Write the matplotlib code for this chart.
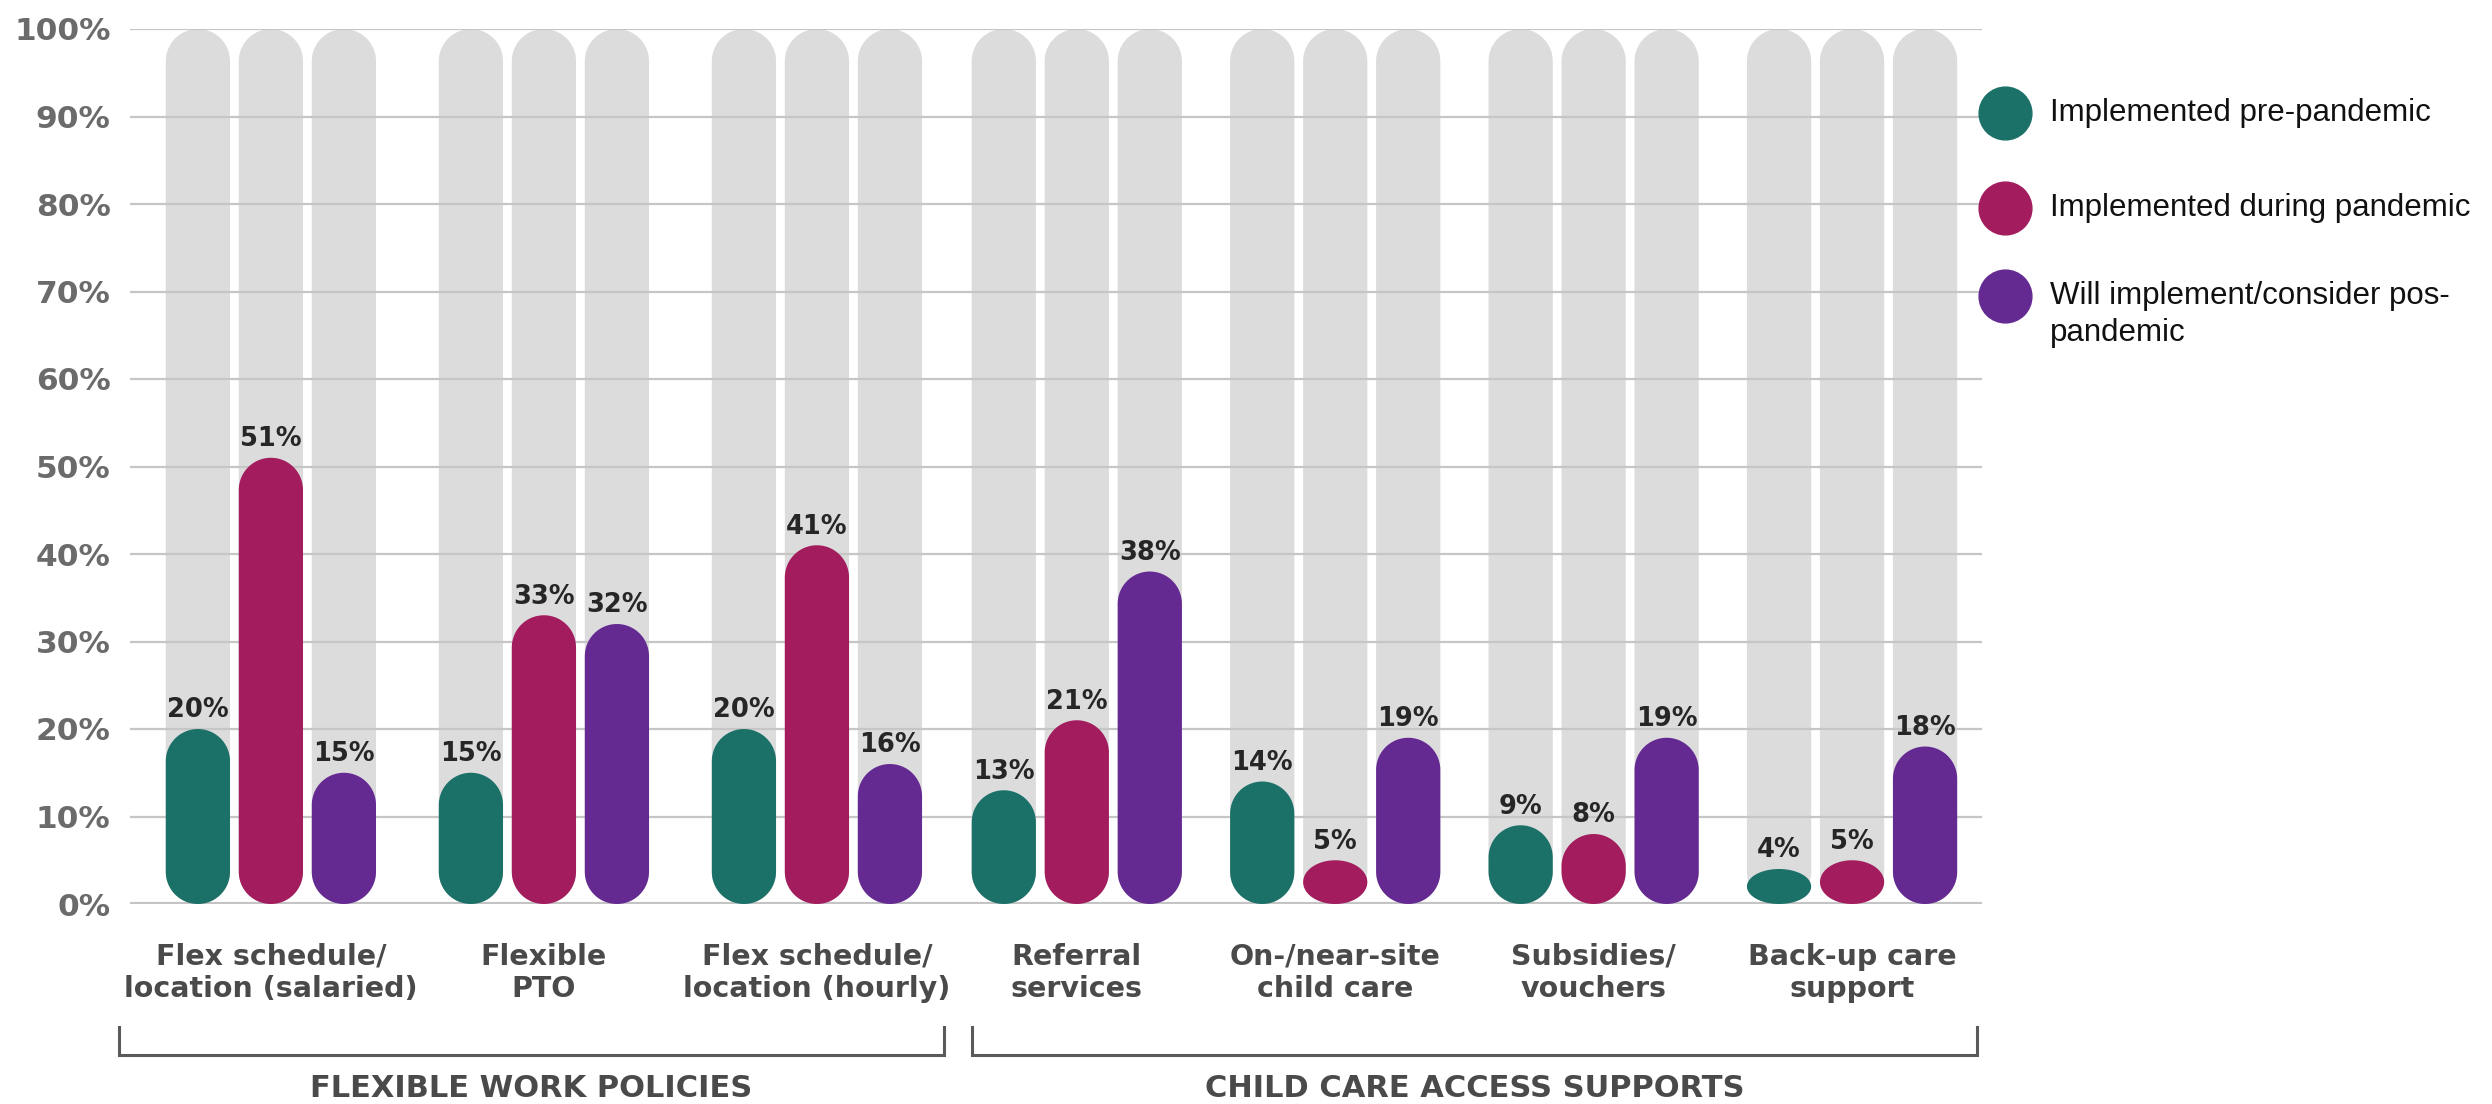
import matplotlib
matplotlib.use('Agg')
import matplotlib.pyplot as plt
from matplotlib.patches import Polygon
from matplotlib.lines import Line2D
from matplotlib.transforms import blended_transform_factory
import numpy as np

# --- data ---
categories = ['Flex schedule/\nlocation (salaried)', 'Flexible\nPTO',
              'Flex schedule/\nlocation (hourly)', 'Referral\nservices',
              'On-/near-site\nchild care', 'Subsidies/\nvouchers',
              'Back-up care\nsupport']
pre_pandemic = [20, 15, 20, 13, 14, 9, 4]
during_pandemic = [51, 33, 41, 21, 5, 8, 5]
post_pandemic = [15, 32, 16, 38, 19, 19, 18]
series_names = ['Implemented pre-pandemic', 'Implemented during pandemic',
                'Will implement/consider pos-\npandemic']
families = ['FLEXIBLE WORK POLICIES', 'CHILD CARE ACCESS SUPPORTS']
family_size = [3, 4]
yticks = [0, 10, 20, 30, 40, 50, 60, 70, 80, 90, 100]

colors = ['#1b7068', '#a21c5e', '#642a92']
GRAY = '#dcdcdd'
TEXT = '#4a4a4a'

# layout: groups within a family are evenly spaced, bars 1 unit apart
family_pitch = [3.74, 3.54]
family_gap = 3.56
group_x = []
x = 0.0
for size, pitch in zip(family_size, family_pitch):
    for i in range(size):
        group_x.append(x)
        x += pitch
    x += family_gap - pitch
group_x = np.array(group_x)
bar_w = 0.88
xmin, xmax = -1.93, 23.44

W, H = 2492, 1104
fig = plt.figure(figsize=(W / 100, H / 100), dpi=100)
ax = fig.add_axes([130 / W, 1 - 904 / H, (1982 - 130) / W, 875 / H])
ax.set_xlim(xmin, xmax)
ax.set_ylim(0, 100)

# y-units per x-unit on screen, so the bar ends come out as half circles
px_x = (1982 - 130) / (xmax - xmin)
px_y = 875 / 100.0
aspect = px_x / px_y
t = np.linspace(0, np.pi, 40)


def pill(xc, h, color, z):
    rx = bar_w / 2
    ry = min(rx * aspect, h / 2.0)
    top = np.column_stack([xc + rx * np.cos(t), h - ry + ry * np.sin(t)])
    bot = np.column_stack([xc - rx * np.cos(t), ry - ry * np.sin(t)])
    p = Polygon(np.vstack([top, bot]), closed=True, facecolor=color,
                edgecolor='none', linewidth=0, zorder=z)
    ax.add_patch(p)


series = [pre_pandemic, during_pandemic, post_pandemic]
for k, vals in enumerate(series):
    for g, v in enumerate(vals):
        xc = group_x[g] + (k - 1)
        pill(xc, 100, GRAY, 0.3)
        pill(xc, v, colors[k], 2)
        ax.annotate('{}%'.format(v), (xc, v), xytext=(0, 4),
                    textcoords='offset points', ha='center', va='bottom',
                    fontsize=18.5, fontweight='bold', color='#262626', zorder=3)

# grid and axes styling
ax.set_yticks(yticks)
ax.set_yticklabels(['{}%'.format(t) for t in yticks], fontsize=22.5,
                   fontweight='bold', color='#6b6b6b')
ax.tick_params(axis='y', length=0, pad=14)
ax.set_xticks([])
ax.set_axisbelow(True)
ax.yaxis.grid(True, color='#c6c6c6', linewidth=1.6)
ax.axhline(0, color='#c4c4c4', linewidth=3, zorder=0.6)
for s in ax.spines.values():
    s.set_visible(False)

# category labels and family brackets below the axis
trans = blended_transform_factory(ax.transData, ax.transAxes)
for g, cat in enumerate(categories):
    ax.text(group_x[g], -0.0789, cat, transform=trans, ha='center',
            va='center', fontsize=20.5, fontweight='bold', color=TEXT,
            linespacing=1.2)

split = (group_x[2] + group_x[3]) / 2 + 0.15
brackets = [(xmin - 0.15, split - 0.19), (split + 0.19, xmax - 0.07)]
y_top, y_bot, y_lab = -0.1406, -0.1726, -0.2103
for (x0, x1), name in zip(brackets, families):
    ax.plot([x0, x0, x1, x1], [y_top, y_bot, y_bot, y_top], transform=trans,
            color='#5a5a5a', linewidth=2.2, clip_on=False,
            solid_joinstyle='miter')
    ax.text((x0 + x1) / 2, y_lab, name, transform=trans, ha='center',
            va='center', fontsize=22, fontweight='bold', color=TEXT)

# hand-made legend on the right
legend_y = [113, 208, 296]
for name, c, py in zip(series_names, colors, legend_y):
    fig.add_artist(Line2D([2005 / W], [1 - py / H], marker='o', markersize=38,
                          color=c, linestyle='none', transform=fig.transFigure))
    nlines = name.count('\n') + 1
    ty = py + (nlines - 1) * 37 / 2.0
    fig.text(2050 / W, 1 - ty / H, name, ha='left', va='center',
             fontsize=22.5, family='Liberation Sans', color='#111111',
             linespacing=1.3)

fig.savefig('out.png', dpi=100)
